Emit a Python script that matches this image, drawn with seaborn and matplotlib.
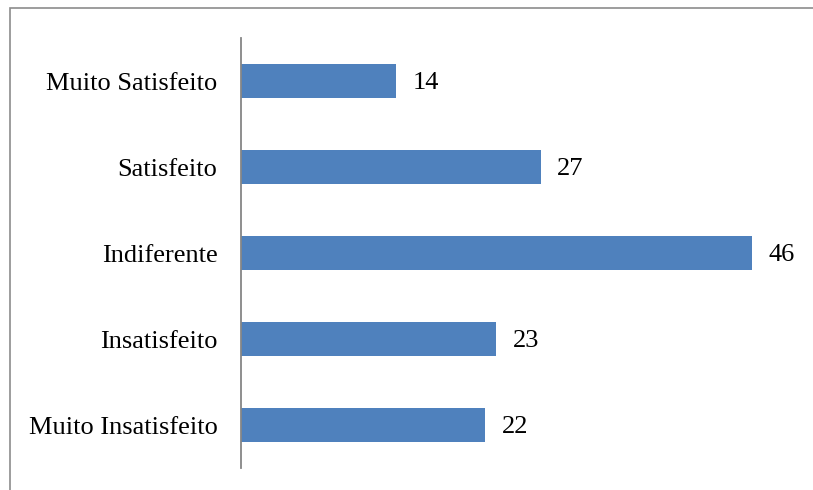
import matplotlib
matplotlib.use("Agg")
import matplotlib.pyplot as plt
import seaborn as sns
import pandas as pd
from matplotlib.patches import Rectangle

categories = ["Muito Satisfeito", "Satisfeito", "Indiferente", "Insatisfeito", "Muito Insatisfeito"]
values = [14, 27, 46, 23, 22]

df = pd.DataFrame({"cat": categories, "val": values})

sns.set_style("white")
plt.rcParams["font.family"] = ["Liberation Serif", "DejaVu Serif"]

fig = plt.figure(figsize=(8.13, 4.9), dpi=100)
W, H = 813, 490
ax = fig.add_axes([241 / W, 1 - 468 / H, (796 - 241) / W, (468 - 38) / H])

sns.barplot(data=df, y="cat", x="val", orient="h", color="#4F81BD",
            saturation=1, width=0.4, linewidth=0, ax=ax)

ax.set_xlim(0, 50)
ax.set_ylim(4.5, -0.5)
ax.set_xlabel("")
ax.set_ylabel("")
ax.set_xticks([])
for s in ["top", "right", "bottom"]:
    ax.spines[s].set_visible(False)
ax.spines["left"].set_color("#868686")
ax.spines["left"].set_linewidth(1.3)
ax.tick_params(axis="y", length=0, pad=17, labelsize=19, colors="black")

for i, v in enumerate(values):
    ax.annotate(str(v), xy=(v, i), xytext=(12, -1.5), textcoords="offset points",
                va="center", ha="left", fontsize=19, color="black")

fig.patches.append(Rectangle((10 / W, -0.1), 1.2, 1 - 8 / H + 0.1, transform=fig.transFigure,
                             fill=False, edgecolor="#8c8c8c", linewidth=1.2))

fig.savefig("out.png", dpi=100, facecolor="white")
